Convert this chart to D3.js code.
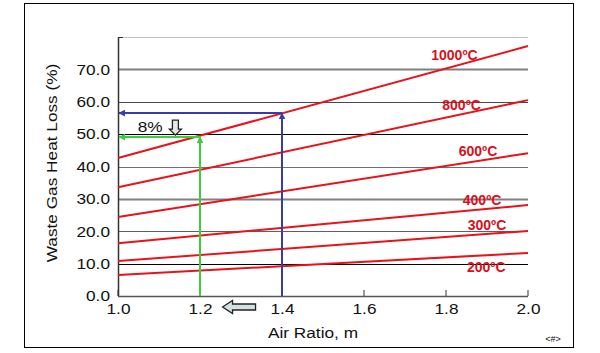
<!DOCTYPE html>
<html>
<head>
<meta charset="utf-8">
<script src="https://cdn.jsdelivr.net/npm/d3@7"></script>
<style>
  body { margin: 0; background: #fff; }
  text { font-family: Arial, "Liberation Sans", sans-serif; }
</style>
</head>
<body>
<div id="chart"></div>
<script>
// Data: heat loss (%) at air ratio 1.0 and 2.0, per gas temperature
const airRatio = [1.0, 2.0];
const temps = ['1000ºC', '800ºC', '600ºC', '400ºC', '300ºC', '200ºC'];
const lossAt = [
  [42.6, 77.2],
  [33.6, 60.5],
  [24.4, 44.1],
  [16.3, 28.1],
  [10.8, 20.1],
  [6.5, 13.3]
];
const yTicks = [0, 10, 20, 30, 40, 50, 60, 70];
const xTicks = [1.0, 1.2, 1.4, 1.6, 1.8, 2.0];
// reading guides: [air ratio, heat loss]
const guideBlue = [1.4, 56.5];
const guideGreen = [1.2, 49.1];

const width = 600, height = 353;
const plot = { left: 118, right: 528, top: 37, bottom: 296 };
const stretch = 1.15;   // the original text is a bit wide

const x = d3.scaleLinear().domain([1.0, 2.0]).range([plot.left, plot.right]);
const y = d3.scaleLinear().domain([0, 80]).range([plot.bottom, plot.top]);

const svg = d3.select('#chart').append('svg')
    .attr('width', width)
    .attr('height', height);

// widen text horizontally, keeping its anchor point
function widen(sel, k) {
  sel.each(function() {
    const t = d3.select(this);
    const x0 = +t.attr('x') || 0;
    t.attr('x', x0 / k).attr('transform', `scale(${k},1)`);
  });
}

// Outer frame
svg.append('rect')
    .attr('x', 24.5).attr('y', 3.5)
    .attr('width', 549).attr('height', 344)
    .attr('fill', '#fff')
    .attr('stroke', '#000');

// Arrow markers
const defs = svg.append('defs');
[['blue', '#3b3ba8'], ['green', '#3ccf3c']].forEach(([id, c]) => {
  defs.append('marker')
      .attr('id', 'arr-' + id)
      .attr('viewBox', '0 0 10 10')
      .attr('refX', 9).attr('refY', 5)
      .attr('markerWidth', 7).attr('markerHeight', 7)
      .attr('orient', 'auto')
      .attr('markerUnits', 'userSpaceOnUse')
    .append('path')
      .attr('d', 'M0,0L10,5L0,10z')
      .attr('fill', c);
});

/*
 * Gridlines (styles vary like the original)
 */
const gridStyle = {
  80: ['#c0c0c0', 1], 70: ['#808080', 2], 60: ['#4a4a4a', 1], 50: ['#000', 1],
  40: ['#707070', 1], 30: ['#808080', 2], 20: ['#606060', 1], 10: ['#000', 1]
};
svg.append('g')
  .selectAll('line')
  .data(yTicks.slice(1).concat([80]))
  .join('line')
    .attr('x1', plot.left).attr('x2', plot.right)
    .attr('y1', d => Math.round(y(d)) + 0.5)
    .attr('y2', d => Math.round(y(d)) + 0.5)
    .attr('stroke', d => gridStyle[d][0])
    .attr('stroke-width', d => gridStyle[d][1]);

/*
 * Axes
 */
const yAxis = svg.append('g')
    .attr('transform', `translate(${plot.left},0)`)
    .call(d3.axisLeft(y).tickValues(yTicks).tickSize(0).tickPadding(8).tickFormat(d3.format('.1f')));
yAxis.select('.domain').remove();
yAxis.selectAll('text')
    .attr('font-size', 15)
    .attr('font-family', 'Arial, "Liberation Sans", sans-serif')
    .attr('fill', '#111')
    .call(widen, stretch);

const xAxis = svg.append('g')
    .attr('transform', `translate(0,${plot.bottom})`)
    .call(d3.axisBottom(x).tickValues(xTicks).tickSize(0).tickPadding(7).tickFormat(d3.format('.1f')));
xAxis.select('.domain').remove();
xAxis.selectAll('text')
    .attr('font-size', 15)
    .attr('font-family', 'Arial, "Liberation Sans", sans-serif')
    .attr('fill', '#111')
    .call(widen, stretch);

// inward ticks
svg.append('g')
  .selectAll('line')
  .data(xTicks)
  .join('line')
    .attr('x1', d => x(d)).attr('x2', d => x(d))
    .attr('y1', plot.bottom).attr('y2', plot.bottom - 6)
    .attr('stroke', '#333');
svg.append('line')
    .attr('x1', plot.left).attr('x2', plot.left + 5)
    .attr('y1', y(80) + 0.5).attr('y2', y(80) + 0.5)
    .attr('stroke', '#333');

// axis lines
svg.append('line')
    .attr('x1', plot.left + 0.5).attr('x2', plot.left + 0.5)
    .attr('y1', plot.top).attr('y2', plot.bottom)
    .attr('stroke', '#333').attr('stroke-width', 1.5);
svg.append('line')
    .attr('x1', plot.left).attr('x2', plot.right)
    .attr('y1', plot.bottom + 0.5).attr('y2', plot.bottom + 0.5)
    .attr('stroke', '#555').attr('stroke-width', 1.5);

/*
 * Heat loss lines
 */
const line = d3.line()
    .x((d, i) => x(airRatio[i]))
    .y(d => y(d));

svg.append('g')
  .selectAll('path')
  .data(lossAt)
  .join('path')
    .attr('d', line)
    .attr('fill', 'none')
    .attr('stroke', '#e8121a')
    .attr('stroke-width', 2);

// temperature labels
const labelPos = [
  { x: 1.764, v: 74.5 }, { x: 1.791, v: 59.0 }, { x: 1.831, v: 44.8 },
  { x: 1.841, v: 29.7 }, { x: 1.853, v: 22.0 }, { x: 1.851, v: 8.8 }
];
svg.append('g')
  .selectAll('text')
  .data(temps)
  .join('text')
    .attr('x', (d, i) => x(labelPos[i].x))
    .attr('y', (d, i) => y(labelPos[i].v))
    .attr('dy', '0.35em')
    .attr('font-size', 14)
    .attr('font-weight', 'bold')
    .attr('fill', '#d8101c')
    .text(d => d);

/*
 * Reading guides
 */
function guide(pt, color, id) {
  svg.append('line')
      .attr('x1', x(pt[0])).attr('x2', x(pt[0]))
      .attr('y1', plot.bottom).attr('y2', y(pt[1]))
      .attr('stroke', color).attr('stroke-width', 2)
      .attr('marker-end', `url(#arr-${id})`);
  svg.append('line')
      .attr('x1', x(pt[0])).attr('x2', plot.left + 1)
      .attr('y1', y(pt[1])).attr('y2', y(pt[1]))
      .attr('stroke', color).attr('stroke-width', 2)
      .attr('marker-end', `url(#arr-${id})`);
}
guide(guideBlue, '#3b3ba8', 'blue');
guide(guideGreen, '#3ccf3c', 'green');

// "8%" note and block arrows
svg.append('text')
    .attr('x', x(1.048)).attr('y', y(52.3))
    .attr('dy', '0.35em')
    .attr('font-size', 15)
    .attr('fill', '#111')
    .text('8%')
    .call(widen, stretch);

const dx = x(1.14), dy = y(54.3);
svg.append('path')
    .attr('d', `M${dx - 3},${dy} h6 v9 h3 l-6,6 l-6,-6 h3 z`)
    .attr('fill', '#e6e6e6')
    .attr('stroke', '#222')
    .attr('stroke-width', 1.3);

const lx = x(1.255), ly = 307;
svg.append('path')
    .attr('d', `M${lx},${ly} l10,-6.5 v3.5 h23 v6 h-23 v3.5 z`)
    .attr('fill', '#cfe3e1')
    .attr('stroke', '#222')
    .attr('stroke-width', 1.3);

/*
 * Axis titles
 */
svg.append('text')
    .attr('x', 313).attr('y', 333)
    .attr('dy', '0.35em')
    .attr('text-anchor', 'middle')
    .attr('font-size', 15)
    .attr('fill', '#111')
    .text('Air Ratio, m')
    .call(widen, stretch);

svg.append('text')
    .attr('transform', `translate(52,163) rotate(-90) scale(${stretch},1)`)
    .attr('dy', '0.35em')
    .attr('text-anchor', 'middle')
    .attr('font-size', 15)
    .attr('fill', '#111')
    .text('Waste Gas Heat Loss (%)');

svg.append('text')
    .attr('x', 553).attr('y', 339)
    .attr('dy', '0.35em')
    .attr('text-anchor', 'middle')
    .attr('font-size', 9)
    .attr('fill', '#111')
    .text('<#>');
</script>
</body>
</html>
